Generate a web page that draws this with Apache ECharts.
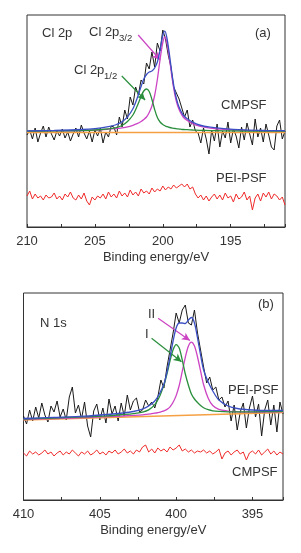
<!DOCTYPE html>
<html><head><meta charset="utf-8">
<script src="https://cdn.jsdelivr.net/npm/echarts@6/dist/echarts.min.js"></script>
<style>html,body{margin:0;padding:0;background:#fff}#c{width:301px;height:553px}</style>
</head><body><div id="c"></div>
<script>
// ---------- Panel (a): Cl 2p ----------
const startA = 210, stepA = 0.2;
const cmpsfA = [92,97,88,99,85,94,101,90,100,93,87,96,91,98,89,95,86,93,99,90,102,94,88,96,85,97,91,99,84,95,90,101,100,92,110,100,117,108,130,122,140,132,147,143,164,158,175,160,184,176,197,188,172,160,140,134,128,119,110,117,100,107,96,94,84,99,88,73,97,86,103,80,96,89,105,84,98,91,79,100,87,104,93,82,108,90,99,85,103,92,80,77,101,107,88,96];
const peiA = [31,36,28,33,29,31,27,32,29,30,34,28,31,27,33,30,35,29,27,32,28,34,26,22,30,27,31,29,33,28,35,30,33,29,36,31,34,30,37,32,35,31,38,34,36,33,39,35,38,36,41,37,40,38,42,39,41,43,40,43,38,40,33,29,32,27,31,26,30,33,28,32,27,34,29,31,25,33,28,30,35,27,31,17,29,33,26,34,30,35,28,33,31,27,30,22];
const fitEnergyA = [210,208,206,205,204,203.5,203,202.6,202.2,201.9,201.6,201.4,201.2,201.0,200.8,200.6,200.4,200.2,200.0,199.85,199.7,199.5,199.3,199.1,198.9,198.7,198.5,198.2,197.8,197.3,196.5,195.5,194,192.5,191];
const envelopeA = [96.2,96.7,97.5,98.4,100.4,102,105.2,110.1,118.2,128.3,140.5,148,152.5,155,156,159,165,177,191.5,195.8,189.3,171.5,150.9,134.5,123.6,116.8,112,108.3,104.8,102,99.8,98.3,97.1,96.5,96.3];
const cl2p32 = [95.9,96.1,96.5,96.9,97.8,98.4,99.2,100.1,101.7,103.3,105.5,107.5,110,114.5,121,131.5,147.5,167.5,184.5,190,184.5,167.5,147.5,131.5,121,114.5,110,106.5,103.3,100.8,98.9,97.6,96.6,96.2,96];
const cl2p12 = [95.8,96.1,96.5,97,98.1,99.1,101.5,105.5,112,120.5,130.5,136,138,135.5,127.5,117.5,109.5,105,102.5,101.3,100.3,99.5,98.9,98.5,98.1,97.8,97.5,97.3,97,96.7,96.4,96.2,96,95.8,95.8];
const baseEnergyA = [210,191];
const baseA = [94.5,94.5];

// ---------- Panel (b): N 1s ----------
const startB = 410, stepB = 0.2;
const peiB = [84,76,90,79,93,82,97,85,78,94,88,99,83,91,80,103,113,87,95,81,98,74,63,89,96,80,92,77,101,86,94,79,97,84,105,90,99,102,88,90,100,94,98,92,103,120,112,133,150,167,187,177,190,195,177,175,190,167,150,133,117,123,110,113,100,103,93,99,79,95,70,88,97,72,92,104,83,96,64,90,100,75,95,68,98,86];
const cmpsfB = [47,44,49,46,48,45,47,50,46,48,44,47,49,45,48,46,50,47,44,48,46,49,45,47,50,46,48,45,49,47,50,46,48,51,47,49,46,50,48,53,55,48,51,47,52,49,51,48,53,50,52,55,49,51,48,50,47,49,48,50,47,49,46,48,51,41,47,49,45,48,50,46,48,40,47,49,46,50,45,48,51,46,49,45,48,46];
const fitEnergyB = [410,408,406,404.5,403.5,402.8,402.2,401.8,401.4,401.1,400.8,400.6,400.4,400.2,400.0,399.8,399.6,399.4,399.2,399.0,398.8,398.6,398.4,398.2,397.9,397.6,397.2,396.6,396,395,394,393];
const envelopeB = [81.5,82.6,83.8,85.5,87,88.5,91,94,99,106,116,128,143,159,172,177,177,176.5,180,182.5,177,162,145,130,118,109,100,94,91.5,90,89.5,89.5];
const peakI = [81.0,82.0,83.1,84.2,85.4,86.4,87.9,90.1,95.3,102.9,115.1,126.1,139.2,150.3,155.4,152,140,126,115,106,101,97.5,94.6,92.2,90.3,89.2,88.6,88.2,88.2,88.2,88.4,88.7];
const peakII = [80.5,81.5,82.5,83.3,84.0,84.6,85.2,85.8,86.8,87.6,89.1,90.6,93.2,97.8,104.4,114.5,128.6,142.7,153.8,157.8,153.9,143,129.1,115.2,101.8,94.5,90.6,88.9,88.2,87.9,88.1,88.3];
const baseEnergyB = [410,393];
const baseB = [80,87.5];

// x axis is drawn as negative energy so that binding energy decreases to the right
const grid = (start, step, vals) => vals.map((v, i) => [-(+(start - i * step).toFixed(2)), v]);
const pairs = (xs, vals) => vals.map((v, i) => [-xs[i], v]);

const FONT = "'Liberation Sans', Arial, sans-serif";
const TXT = '#333';
const C = {black:'#1a1a1a', red:'#f02a2a', blue:'#3b4fc4', pink:'#cc44c4', green:'#2a8f3c', orange:'#f5a043'};

function xAxisCfg(idx, min, max) {
  return {
    type:'value', gridIndex:idx, min:min, max:max, interval:2.5,
    axisLine:{show:true, lineStyle:{color:'#333', width:1}},
    axisTick:{show:true, inside:true, length:3, lineStyle:{color:'#333'}},
    splitLine:{show:false},
    axisLabel:{margin:8, color:TXT, fontSize:13, fontFamily:FONT,
      formatter: v => (Math.abs(v) % 5 === 0 ? String(-v) : '')},
    name:'Binding energy/eV', nameLocation:'middle', nameGap:24,
    nameTextStyle:{color:TXT, fontSize:13, fontFamily:FONT}
  };
}
function yAxisCfg(idx, max) {
  return {type:'value', gridIndex:idx, min:0, max:max, show:false};
}
function line(name, data, color, xi, width, smooth, z) {
  return {type:'line', name:name, xAxisIndex:xi, yAxisIndex:xi, data:data, showSymbol:false,
    symbol:'none', smooth:smooth, z:z, lineStyle:{color:color, width:width}, animation:false};
}
function arrow(xi, from, to, color) {
  return {type:'line', xAxisIndex:xi, yAxisIndex:xi, data:[], z:10, animation:false,
    markLine:{silent:true, symbol:['none','arrow'], symbolSize:[6,8], label:{show:false},
      lineStyle:{color:color, width:1.2, type:'solid'},
      data:[[{coord:[-from[0], from[1]]},{coord:[-to[0], to[1]]}]]}};
}
function txt(x, y, s, size) {
  return {type:'text', x:x, y:y, z:100, style:{text:s, fill:TXT, fontSize:size||13, fontFamily:FONT, verticalAlign:'middle'}};
}

const chart = echarts.init(document.getElementById('c'), null, {renderer:'canvas'});
chart.setOption({
  animation:false,
  backgroundColor:'#fff',
  grid:[
    {left:27, top:15, width:258, height:212, show:true, borderColor:'#333', borderWidth:1},
    {left:23.5, top:293, width:259.5, height:207, show:true, borderColor:'#333', borderWidth:1}
  ],
  xAxis:[xAxisCfg(0, -210, -191), xAxisCfg(1, -410, -393)],
  yAxis:[yAxisCfg(0, 212), yAxisCfg(1, 207)],
  series:[
    line('CMPSF', grid(startA, stepA, cmpsfA), C.black, 0, 1, false, 2),
    line('PEI-PSF', grid(startA, stepA, peiA), C.red, 0, 1, false, 2),
    line('baseline', pairs(baseEnergyA, baseA), C.orange, 0, 1.3, false, 3),
    line('Cl 2p3/2', pairs(fitEnergyA, cl2p32), C.pink, 0, 1.3, 0.3, 4),
    line('Cl 2p1/2', pairs(fitEnergyA, cl2p12), C.green, 0, 1.3, 0.3, 5),
    line('envelope', pairs(fitEnergyA, envelopeA), C.blue, 0, 1.3, 0.3, 6),
    arrow(0, [201.81, 192], [200.19, 167], C.pink),
    arrow(0, [203.02, 151], [201.3, 127], C.green),

    line('PEI-PSF', grid(startB, stepB, peiB), C.black, 1, 1, false, 2),
    line('CMPSF', grid(startB, stepB, cmpsfB), C.red, 1, 1, false, 2),
    line('baseline', pairs(baseEnergyB, baseB), C.orange, 1, 1.3, false, 3),
    line('II', pairs(fitEnergyB, peakII), C.pink, 1, 1.3, 0.3, 4),
    line('I', pairs(fitEnergyB, peakI), C.green, 1, 1.3, 0.3, 5),
    line('envelope', pairs(fitEnergyB, envelopeB), C.blue, 1, 1.3, 0.3, 6),
    arrow(1, [401.18, 181.7], [399.1, 159.5], C.pink),
    arrow(1, [401.61, 161.7], [399.65, 138.3], C.green)
  ],
  graphic:[
    txt(42, 33, 'Cl 2p'),
    txt(89, 32, 'Cl 2p'), txt(119, 38, '3/2', 9.5),
    txt(74, 70, 'Cl 2p'), txt(104, 76, '1/2', 9.5),
    txt(255, 33, '(a)'),
    txt(221, 105, 'CMPSF'),
    txt(216, 178, 'PEI-PSF'),
    txt(40, 323, 'N 1s'),
    txt(258, 304, '(b)'),
    txt(148, 314, 'II'),
    txt(145, 334, 'I'),
    txt(228, 390, 'PEI-PSF'),
    txt(232, 472, 'CMPSF')
  ]
});
</script>
</body></html>
